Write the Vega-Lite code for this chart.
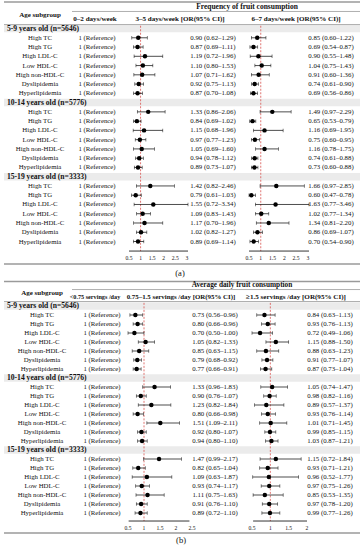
{
"$schema":"https://vega.github.io/schema/vega-lite/v6.json",
"padding":0,"spacing":2,"bounds":"flush",
"config":{"view":{"stroke":null},"font":"Liberation Serif"},
"datasets":{
"a":[
{"r":0,"kind":"g","label":"5-9 years old (n=5646)"},
{"r":1,"kind":"i","label":"High TC","or1":0.90,"lo1":0.62,"hi1":1.29,"t1":"0.90 (0.62–1.29)","or2":0.85,"lo2":0.60,"hi2":1.22,"t2":"0.85 (0.60–1.22)"},
{"r":2,"kind":"i","label":"High TG","or1":0.87,"lo1":0.69,"hi1":1.11,"t1":"0.87 (0.69–1.11)","or2":0.69,"lo2":0.54,"hi2":0.87,"t2":"0.69 (0.54–0.87)"},
{"r":3,"kind":"i","label":"High LDL-C","or1":1.19,"lo1":0.72,"hi1":1.96,"t1":"1.19 (0.72–1.96)","or2":0.90,"lo2":0.55,"hi2":1.48,"t2":"0.90 (0.55–1.48)"},
{"r":4,"kind":"i","label":"Low HDL-C","or1":1.10,"lo1":0.80,"hi1":1.53,"t1":"1.10 (0.80–1.53)","or2":1.04,"lo2":0.75,"hi2":1.43,"t2":"1.04 (0.75–1.43)"},
{"r":5,"kind":"i","label":"High non-HDL-C","or1":1.07,"lo1":0.71,"hi1":1.62,"t1":"1.07 (0.71–1.62)","or2":0.91,"lo2":0.60,"hi2":1.36,"t2":"0.91 (0.60–1.36)"},
{"r":6,"kind":"i","label":"Dyslipidemia","or1":0.92,"lo1":0.75,"hi1":1.13,"t1":"0.92 (0.75–1.13)","or2":0.74,"lo2":0.61,"hi2":0.90,"t2":"0.74 (0.61–0.90)"},
{"r":7,"kind":"i","label":"Hyperlipidemia","or1":0.87,"lo1":0.70,"hi1":1.08,"t1":"0.87 (0.70–1.08)","or2":0.69,"lo2":0.56,"hi2":0.86,"t2":"0.69 (0.56–0.86)"},
{"r":8,"kind":"g","label":"10-14 years old (n=5776)"},
{"r":9,"kind":"i","label":"High TC","or1":1.33,"lo1":0.86,"hi1":2.06,"t1":"1.33 (0.86–2.06)","or2":1.49,"lo2":0.97,"hi2":2.29,"t2":"1.49 (0.97–2.29)"},
{"r":10,"kind":"i","label":"High TG","or1":0.84,"lo1":0.69,"hi1":1.02,"t1":"0.84 (0.69–1.02)","or2":0.65,"lo2":0.53,"hi2":0.79,"t2":"0.65 (0.53–0.79)"},
{"r":11,"kind":"i","label":"High LDL-C","or1":1.15,"lo1":0.68,"hi1":1.96,"t1":"1.15 (0.68–1.96)","or2":1.16,"lo2":0.69,"hi2":1.95,"t2":"1.16 (0.69–1.95)"},
{"r":12,"kind":"i","label":"Low HDL-C","or1":0.97,"lo1":0.77,"hi1":1.23,"t1":"0.97 (0.77–1.23)","or2":0.75,"lo2":0.60,"hi2":0.95,"t2":"0.75 (0.60–0.95)"},
{"r":13,"kind":"i","label":"High non-HDL-C","or1":1.05,"lo1":0.69,"hi1":1.60,"t1":"1.05 (0.69–1.60)","or2":1.16,"lo2":0.78,"hi2":1.75,"t2":"1.16 (0.78–1.75)"},
{"r":14,"kind":"i","label":"Dyslipidemia","or1":0.94,"lo1":0.78,"hi1":1.12,"t1":"0.94 (0.78–1.12)","or2":0.74,"lo2":0.61,"hi2":0.88,"t2":"0.74 (0.61–0.88)"},
{"r":15,"kind":"i","label":"Hyperlipidemia","or1":0.89,"lo1":0.73,"hi1":1.07,"t1":"0.89 (0.73–1.07)","or2":0.73,"lo2":0.60,"hi2":0.88,"t2":"0.73 (0.60–0.88)"},
{"r":16,"kind":"g","label":"15-19 years old (n=3333)"},
{"r":17,"kind":"i","label":"High TC","or1":1.42,"lo1":0.82,"hi1":2.46,"t1":"1.42 (0.82–2.46)","or2":1.66,"lo2":0.97,"hi2":2.85,"t2":"1.66 (0.97–2.85)"},
{"r":18,"kind":"i","label":"High TG","or1":0.79,"lo1":0.61,"hi1":1.03,"t1":"0.79 (0.61–1.03)","or2":0.60,"lo2":0.47,"hi2":0.78,"t2":"0.60 (0.47–0.78)"},
{"r":19,"kind":"i","label":"High LDL-C","or1":1.55,"lo1":0.72,"hi1":3.34,"t1":"1.55 (0.72–3.34)","or2":1.63,"lo2":0.77,"hi2":3.46,"t2":"1.63 (0.77–3.46)"},
{"r":20,"kind":"i","label":"Low HDL-C","or1":1.09,"lo1":0.83,"hi1":1.43,"t1":"1.09 (0.83–1.43)","or2":1.02,"lo2":0.77,"hi2":1.34,"t2":"1.02 (0.77–1.34)"},
{"r":21,"kind":"i","label":"High non-HDL-C","or1":1.17,"lo1":0.70,"hi1":1.96,"t1":"1.17 (0.70–1.96)","or2":1.34,"lo2":0.81,"hi2":2.20,"t2":"1.34 (0.81–2.20)"},
{"r":22,"kind":"i","label":"Dyslipidemia","or1":1.02,"lo1":0.82,"hi1":1.27,"t1":"1.02 (0.82–1.27)","or2":0.86,"lo2":0.69,"hi2":1.07,"t2":"0.86 (0.69–1.07)"},
{"r":23,"kind":"i","label":"Hyperlipidemia","or1":0.89,"lo1":0.69,"hi1":1.14,"t1":"0.89 (0.69–1.14)","or2":0.70,"lo2":0.54,"hi2":0.90,"t2":"0.70 (0.54–0.90)"}
],
"b":[
{"r":0,"kind":"g","label":"5-9 years old (n=5646)"},
{"r":1,"kind":"i","label":"High TC","or1":0.73,"lo1":0.56,"hi1":0.96,"t1":"0.73 (0.56–0.96)","or2":0.84,"lo2":0.63,"hi2":1.13,"t2":"0.84 (0.63–1.13)"},
{"r":2,"kind":"i","label":"High TG","or1":0.80,"lo1":0.66,"hi1":0.96,"t1":"0.80 (0.66–0.96)","or2":0.93,"lo2":0.76,"hi2":1.13,"t2":"0.93 (0.76–1.13)"},
{"r":3,"kind":"i","label":"High LDL-C","or1":0.70,"lo1":0.50,"hi1":1.00,"t1":"0.70 (0.50–1.00)","or2":0.72,"lo2":0.49,"hi2":1.06,"t2":"0.72 (0.49–1.06)"},
{"r":4,"kind":"i","label":"Low HDL-C","or1":1.05,"lo1":0.82,"hi1":1.33,"t1":"1.05 (0.82–1.33)","or2":1.15,"lo2":0.88,"hi2":1.50,"t2":"1.15 (0.88–1.50)"},
{"r":5,"kind":"i","label":"High non-HDL-C","or1":0.85,"lo1":0.63,"hi1":1.15,"t1":"0.85 (0.63–1.15)","or2":0.88,"lo2":0.63,"hi2":1.23,"t2":"0.88 (0.63–1.23)"},
{"r":6,"kind":"i","label":"Dyslipidemia","or1":0.79,"lo1":0.68,"hi1":0.92,"t1":"0.79 (0.68–0.92)","or2":0.91,"lo2":0.77,"hi2":1.07,"t2":"0.91 (0.77–1.07)"},
{"r":7,"kind":"i","label":"Hyperlipidemia","or1":0.77,"lo1":0.66,"hi1":0.91,"t1":"0.77 (0.66–0.91)","or2":0.87,"lo2":0.73,"hi2":1.04,"t2":"0.87 (0.73–1.04)"},
{"r":8,"kind":"g","label":"10-14 years old (n=5776)"},
{"r":9,"kind":"i","label":"High TC","or1":1.33,"lo1":0.96,"hi1":1.83,"t1":"1.33 (0.96–1.83)","or2":1.05,"lo2":0.74,"hi2":1.47,"t2":"1.05 (0.74–1.47)"},
{"r":10,"kind":"i","label":"High TG","or1":0.90,"lo1":0.76,"hi1":1.07,"t1":"0.90 (0.76–1.07)","or2":0.98,"lo2":0.82,"hi2":1.16,"t2":"0.98 (0.82–1.16)"},
{"r":11,"kind":"i","label":"High LDL-C","or1":1.23,"lo1":0.82,"hi1":1.84,"t1":"1.23 (0.82–1.84)","or2":0.89,"lo2":0.57,"hi2":1.37,"t2":"0.89 (0.57–1.37)"},
{"r":12,"kind":"i","label":"Low HDL-C","or1":0.80,"lo1":0.66,"hi1":0.98,"t1":"0.80 (0.66–0.98)","or2":0.93,"lo2":0.76,"hi2":1.14,"t2":"0.93 (0.76–1.14)"},
{"r":13,"kind":"i","label":"High non-HDL-C","or1":1.51,"lo1":1.09,"hi1":2.11,"t1":"1.51 (1.09–2.11)","or2":1.01,"lo2":0.71,"hi2":1.45,"t2":"1.01 (0.71–1.45)"},
{"r":14,"kind":"i","label":"Dyslipidemia","or1":0.92,"lo1":0.80,"hi1":1.07,"t1":"0.92 (0.80–1.07)","or2":0.99,"lo2":0.85,"hi2":1.15,"t2":"0.99 (0.85–1.15)"},
{"r":15,"kind":"i","label":"Hyperlipidemia","or1":0.94,"lo1":0.80,"hi1":1.10,"t1":"0.94 (0.80–1.10)","or2":1.03,"lo2":0.87,"hi2":1.21,"t2":"1.03 (0.87–1.21)"},
{"r":16,"kind":"g","label":"15-19 years old (n=3333)"},
{"r":17,"kind":"i","label":"High TC","or1":1.47,"lo1":0.99,"hi1":2.17,"t1":"1.47 (0.99–2.17)","or2":1.15,"lo2":0.72,"hi2":1.84,"t2":"1.15 (0.72–1.84)"},
{"r":18,"kind":"i","label":"High TG","or1":0.82,"lo1":0.65,"hi1":1.04,"t1":"0.82 (0.65–1.04)","or2":0.93,"lo2":0.71,"hi2":1.21,"t2":"0.93 (0.71–1.21)"},
{"r":19,"kind":"i","label":"High LDL-C","or1":1.09,"lo1":0.63,"hi1":1.87,"t1":"1.09 (0.63–1.87)","or2":0.96,"lo2":0.52,"hi2":1.77,"t2":"0.96 (0.52–1.77)"},
{"r":20,"kind":"i","label":"Low HDL-C","or1":0.93,"lo1":0.74,"hi1":1.17,"t1":"0.93 (0.74–1.17)","or2":0.97,"lo2":0.75,"hi2":1.26,"t2":"0.97 (0.75–1.26)"},
{"r":21,"kind":"i","label":"High non-HDL-C","or1":1.11,"lo1":0.75,"hi1":1.63,"t1":"1.11 (0.75–1.63)","or2":0.85,"lo2":0.53,"hi2":1.35,"t2":"0.85 (0.53–1.35)"},
{"r":22,"kind":"i","label":"Dyslipidemia","or1":0.91,"lo1":0.76,"hi1":1.10,"t1":"0.91 (0.76–1.10)","or2":0.97,"lo2":0.78,"hi2":1.20,"t2":"0.97 (0.78–1.20)"},
{"r":23,"kind":"i","label":"Hyperlipidemia","or1":0.89,"lo1":0.72,"hi1":1.10,"t1":"0.89 (0.72–1.10)","or2":0.99,"lo2":0.77,"hi2":1.26,"t2":"0.99 (0.77–1.26)"}
]
},
"vconcat":[
{
"width":360,"height":278,
"resolve":{"scale":{"x":"independent"}},
"layer":[
{"data":{"name":"a"},"transform":[{"filter":"datum.kind=='g'"}],"mark":{"type":"rule","color":"#ebebeb","strokeWidth":7.5},"encoding":{"y":{"field":"r","type":"quantitative","scale":{"domain":[-3.08,26.94],"reverse":true,"nice":false,"zero":false},"axis":null}}},
{"data":{"values":[{}]},"mark":{"type":"rule","color":"#9a9a9a","strokeWidth":1.5},"encoding":{"y":{"datum":-2.86,"type":"quantitative","scale":{"domain":[-3.08,26.94],"reverse":true,"nice":false,"zero":false},"axis":null}}},
{"data":{"values":[{}]},"mark":{"type":"rule","color":"#9a9a9a","strokeWidth":0.8},"encoding":{"y":{"datum":-0.43,"type":"quantitative","scale":{"domain":[-3.08,26.94],"reverse":true,"nice":false,"zero":false},"axis":null}}},
{"data":{"values":[{}]},"mark":{"type":"rule","color":"#9a9a9a","strokeWidth":1.5},"encoding":{"y":{"datum":25.43,"type":"quantitative","scale":{"domain":[-3.08,26.94],"reverse":true,"nice":false,"zero":false},"axis":null}}},
{"layer":[
{"data":{"values":[{}]},"mark":{"type":"rule","color":"#9a9a9a","strokeWidth":0.8},"encoding":{"x":{"datum":2,"type":"quantitative","scale":{"domain":[0,1,2,3,4,5,6,7,8,9,10],"range":[3,36,68,91,93,176,209,243,292,327,357],"nice":false,"zero":false},"axis":null},"x2":{"datum":10},"y":{"datum":-1.84,"type":"quantitative","scale":{"domain":[-3.08,26.94],"reverse":true,"nice":false,"zero":false},"axis":null}}},
{"data":{"name":"a"},"transform":[{"filter":"datum.kind=='g'"}],"mark":{"type":"text","align":"left","baseline":"middle","fontSize":7.6,"fontWeight":"bold","color":"#111"},"encoding":{"x":{"datum":0,"type":"quantitative","scale":{"domain":[0,1,2,3,4,5,6,7,8,9,10],"range":[3,36,68,91,93,176,209,243,292,327,357],"nice":false,"zero":false},"axis":null},"y":{"field":"r","type":"quantitative","scale":{"domain":[-3.08,26.94],"reverse":true,"nice":false,"zero":false},"axis":null},"text":{"field":"label"}}},
{"data":{"name":"a"},"transform":[{"filter":"datum.kind=='i'"}],"mark":{"type":"text","align":"center","baseline":"middle","fontSize":6.8,"color":"#111"},"encoding":{"x":{"datum":1,"type":"quantitative","scale":{"domain":[0,1,2,3,4,5,6,7,8,9,10],"range":[3,36,68,91,93,176,209,243,292,327,357],"nice":false,"zero":false},"axis":null},"y":{"field":"r","type":"quantitative","scale":{"domain":[-3.08,26.94],"reverse":true,"nice":false,"zero":false},"axis":null},"text":{"field":"label"}}},
{"data":{"name":"a"},"transform":[{"filter":"datum.kind=='i'"}],"mark":{"type":"text","align":"center","baseline":"middle","fontSize":6.8,"color":"#111"},"encoding":{"x":{"datum":4,"type":"quantitative","scale":{"domain":[0,1,2,3,4,5,6,7,8,9,10],"range":[3,36,68,91,93,176,209,243,292,327,357],"nice":false,"zero":false},"axis":null},"y":{"field":"r","type":"quantitative","scale":{"domain":[-3.08,26.94],"reverse":true,"nice":false,"zero":false},"axis":null},"text":{"value":"1 (Reference)"}}},
{"data":{"name":"a"},"transform":[{"filter":"datum.kind=='i'"}],"mark":{"type":"text","align":"center","baseline":"middle","fontSize":6.8,"color":"#111"},"encoding":{"x":{"datum":6,"type":"quantitative","scale":{"domain":[0,1,2,3,4,5,6,7,8,9,10],"range":[3,36,68,91,93,176,209,243,292,327,357],"nice":false,"zero":false},"axis":null},"y":{"field":"r","type":"quantitative","scale":{"domain":[-3.08,26.94],"reverse":true,"nice":false,"zero":false},"axis":null},"text":{"field":"t1"}}},
{"data":{"name":"a"},"transform":[{"filter":"datum.kind=='i'"}],"mark":{"type":"text","align":"center","baseline":"middle","fontSize":6.8,"color":"#111"},"encoding":{"x":{"datum":9,"type":"quantitative","scale":{"domain":[0,1,2,3,4,5,6,7,8,9,10],"range":[3,36,68,91,93,176,209,243,292,327,357],"nice":false,"zero":false},"axis":null},"y":{"field":"r","type":"quantitative","scale":{"domain":[-3.08,26.94],"reverse":true,"nice":false,"zero":false},"axis":null},"text":{"field":"t2"}}},
{"data":{"values":[{}]},"mark":{"type":"text","align":"center","baseline":"middle","fontSize":7.0,"fontWeight":"bold","color":"#111"},"encoding":{"x":{"datum":1,"type":"quantitative","scale":{"domain":[0,1,2,3,4,5,6,7,8,9,10],"range":[3,36,68,91,93,176,209,243,292,327,357],"nice":false,"zero":false},"axis":null},"y":{"datum":-1.51,"type":"quantitative","scale":{"domain":[-3.08,26.94],"reverse":true,"nice":false,"zero":false},"axis":null},"text":{"value":"Age subgroup"}}},
{"data":{"values":[{}]},"mark":{"type":"text","align":"center","baseline":"middle","fontSize":7.5,"fontWeight":"bold","color":"#111"},"encoding":{"x":{"datum":7,"type":"quantitative","scale":{"domain":[0,1,2,3,4,5,6,7,8,9,10],"range":[3,36,68,91,93,176,209,243,292,327,357],"nice":false,"zero":false},"axis":null},"y":{"datum":-2.32,"type":"quantitative","scale":{"domain":[-3.08,26.94],"reverse":true,"nice":false,"zero":false},"axis":null},"text":{"value":"Frequency of fruit consumption"}}},
{"data":{"values":[{}]},"mark":{"type":"text","align":"center","baseline":"middle","fontSize":7.1,"fontWeight":"bold","color":"#111"},"encoding":{"x":{"datum":3,"type":"quantitative","scale":{"domain":[0,1,2,3,4,5,6,7,8,9,10],"range":[3,36,68,91,93,176,209,243,292,327,357],"nice":false,"zero":false},"axis":null},"y":{"datum":-1.03,"type":"quantitative","scale":{"domain":[-3.08,26.94],"reverse":true,"nice":false,"zero":false},"axis":null},"text":{"value":"0–2 days/week"}}},
{"data":{"values":[{}]},"mark":{"type":"text","align":"center","baseline":"middle","fontSize":7.1,"fontWeight":"bold","color":"#111"},"encoding":{"x":{"datum":5,"type":"quantitative","scale":{"domain":[0,1,2,3,4,5,6,7,8,9,10],"range":[3,36,68,91,93,176,209,243,292,327,357],"nice":false,"zero":false},"axis":null},"y":{"datum":-1.03,"type":"quantitative","scale":{"domain":[-3.08,26.94],"reverse":true,"nice":false,"zero":false},"axis":null},"text":{"value":"3–5 days/week [OR(95% CI)]"}}},
{"data":{"values":[{}]},"mark":{"type":"text","align":"center","baseline":"middle","fontSize":7.1,"fontWeight":"bold","color":"#111"},"encoding":{"x":{"datum":8,"type":"quantitative","scale":{"domain":[0,1,2,3,4,5,6,7,8,9,10],"range":[3,36,68,91,93,176,209,243,292,327,357],"nice":false,"zero":false},"axis":null},"y":{"datum":-1.03,"type":"quantitative","scale":{"domain":[-3.08,26.94],"reverse":true,"nice":false,"zero":false},"axis":null},"text":{"value":"6–7 days/week [OR(95% CI)]"}}},
{"data":{"values":[{}]},"mark":{"type":"text","align":"center","baseline":"middle","fontSize":8.5,"color":"#111"},"encoding":{"x":{"datum":5,"type":"quantitative","scale":{"domain":[0,1,2,3,4,5,6,7,8,9,10],"range":[3,36,68,91,93,176,209,243,292,327,357],"nice":false,"zero":false},"axis":null},"y":{"datum":26.4,"type":"quantitative","scale":{"domain":[-3.08,26.94],"reverse":true,"nice":false,"zero":false},"axis":null},"text":{"value":"(a)"}}}
]},
{"layer":[
{"data":{"values":[{}]},"mark":{"type":"rule","color":"#d9534f","strokeWidth":0.8,"strokeDash":[2,1.5]},"encoding":{"x":{"datum":1,"type":"quantitative","scale":{"domain":[0.5,3.05],"range":[125,184],"nice":false,"zero":false,"clamp":true},"axis":null},"y":{"datum":-0.3,"type":"quantitative","scale":{"domain":[-3.08,26.94],"reverse":true,"nice":false,"zero":false},"axis":null},"y2":{"datum":24.03}}},
{"data":{"name":"a"},"transform":[{"filter":"datum.kind=='i'"}],"mark":{"type":"rule","color":"#000","strokeWidth":0.7},"encoding":{"x":{"field":"lo1","type":"quantitative","scale":{"domain":[0.5,3.05],"range":[125,184],"nice":false,"zero":false,"clamp":true},"axis":null},"x2":{"field":"hi1"},"y":{"field":"r","type":"quantitative","scale":{"domain":[-3.08,26.94],"reverse":true,"nice":false,"zero":false},"axis":null}}},
{"data":{"name":"a"},"transform":[{"filter":"datum.kind=='i'"}],"mark":{"type":"tick","orient":"vertical","color":"#000","size":3.5,"thickness":0.7},"encoding":{"x":{"field":"lo1","type":"quantitative","scale":{"domain":[0.5,3.05],"range":[125,184],"nice":false,"zero":false,"clamp":true},"axis":null},"y":{"field":"r","type":"quantitative","scale":{"domain":[-3.08,26.94],"reverse":true,"nice":false,"zero":false},"axis":null}}},
{"data":{"name":"a"},"transform":[{"filter":"datum.kind=='i'"}],"mark":{"type":"tick","orient":"vertical","color":"#000","size":3.5,"thickness":0.7},"encoding":{"x":{"field":"hi1","type":"quantitative","scale":{"domain":[0.5,3.05],"range":[125,184],"nice":false,"zero":false,"clamp":true},"axis":null},"y":{"field":"r","type":"quantitative","scale":{"domain":[-3.08,26.94],"reverse":true,"nice":false,"zero":false},"axis":null}}},
{"data":{"name":"a"},"transform":[{"filter":"datum.kind=='i'"}],"mark":{"type":"circle","color":"#000","size":20,"opacity":1},"encoding":{"x":{"field":"or1","type":"quantitative","scale":{"domain":[0.5,3.05],"range":[125,184],"nice":false,"zero":false,"clamp":true},"axis":null},"y":{"field":"r","type":"quantitative","scale":{"domain":[-3.08,26.94],"reverse":true,"nice":false,"zero":false},"axis":null}}},
{"data":{"values":[{}]},"mark":{"type":"rule","color":"#000","strokeWidth":0.8},"encoding":{"x":{"datum":0.5,"type":"quantitative","scale":{"domain":[0.5,3.05],"range":[125,184],"nice":false,"zero":false,"clamp":true},"axis":null},"x2":{"datum":3.05},"y":{"datum":24.03,"type":"quantitative","scale":{"domain":[-3.08,26.94],"reverse":true,"nice":false,"zero":false},"axis":null}}},
{"data":{"values":[{"t":0.5},{"t":1},{"t":1.5},{"t":2},{"t":2.5},{"t":3}]},"mark":{"type":"text","align":"center","baseline":"middle","fontSize":5.6,"color":"#111"},"encoding":{"x":{"field":"t","type":"quantitative","scale":{"domain":[0.5,3.05],"range":[125,184],"nice":false,"zero":false,"clamp":true},"axis":null},"y":{"datum":24.73,"type":"quantitative","scale":{"domain":[-3.08,26.94],"reverse":true,"nice":false,"zero":false},"axis":null},"text":{"field":"t","type":"nominal"}}}
]},
{"layer":[
{"data":{"values":[{}]},"mark":{"type":"rule","color":"#d9534f","strokeWidth":0.8,"strokeDash":[2,1.5]},"encoding":{"x":{"datum":1,"type":"quantitative","scale":{"domain":[0.5,3.05],"range":[245,305],"nice":false,"zero":false,"clamp":true},"axis":null},"y":{"datum":-0.3,"type":"quantitative","scale":{"domain":[-3.08,26.94],"reverse":true,"nice":false,"zero":false},"axis":null},"y2":{"datum":24.03}}},
{"data":{"name":"a"},"transform":[{"filter":"datum.kind=='i'"}],"mark":{"type":"rule","color":"#000","strokeWidth":0.7},"encoding":{"x":{"field":"lo2","type":"quantitative","scale":{"domain":[0.5,3.05],"range":[245,305],"nice":false,"zero":false,"clamp":true},"axis":null},"x2":{"field":"hi2"},"y":{"field":"r","type":"quantitative","scale":{"domain":[-3.08,26.94],"reverse":true,"nice":false,"zero":false},"axis":null}}},
{"data":{"name":"a"},"transform":[{"filter":"datum.kind=='i'"}],"mark":{"type":"tick","orient":"vertical","color":"#000","size":3.5,"thickness":0.7},"encoding":{"x":{"field":"lo2","type":"quantitative","scale":{"domain":[0.5,3.05],"range":[245,305],"nice":false,"zero":false,"clamp":true},"axis":null},"y":{"field":"r","type":"quantitative","scale":{"domain":[-3.08,26.94],"reverse":true,"nice":false,"zero":false},"axis":null}}},
{"data":{"name":"a"},"transform":[{"filter":"datum.kind=='i'"}],"mark":{"type":"tick","orient":"vertical","color":"#000","size":3.5,"thickness":0.7},"encoding":{"x":{"field":"hi2","type":"quantitative","scale":{"domain":[0.5,3.05],"range":[245,305],"nice":false,"zero":false,"clamp":true},"axis":null},"y":{"field":"r","type":"quantitative","scale":{"domain":[-3.08,26.94],"reverse":true,"nice":false,"zero":false},"axis":null}}},
{"data":{"name":"a"},"transform":[{"filter":"datum.kind=='i'"}],"mark":{"type":"circle","color":"#000","size":20,"opacity":1},"encoding":{"x":{"field":"or2","type":"quantitative","scale":{"domain":[0.5,3.05],"range":[245,305],"nice":false,"zero":false,"clamp":true},"axis":null},"y":{"field":"r","type":"quantitative","scale":{"domain":[-3.08,26.94],"reverse":true,"nice":false,"zero":false},"axis":null}}},
{"data":{"values":[{}]},"mark":{"type":"rule","color":"#000","strokeWidth":0.8},"encoding":{"x":{"datum":0.42,"type":"quantitative","scale":{"domain":[0.5,3.05],"range":[245,305],"nice":false,"zero":false,"clamp":false},"axis":null},"x2":{"datum":3.05},"y":{"datum":24.03,"type":"quantitative","scale":{"domain":[-3.08,26.94],"reverse":true,"nice":false,"zero":false},"axis":null}}},
{"data":{"values":[{"t":0.5},{"t":1},{"t":1.5},{"t":2},{"t":2.5},{"t":3}]},"mark":{"type":"text","align":"center","baseline":"middle","fontSize":5.6,"color":"#111"},"encoding":{"x":{"field":"t","type":"quantitative","scale":{"domain":[0.5,3.05],"range":[245,305],"nice":false,"zero":false,"clamp":true},"axis":null},"y":{"datum":24.73,"type":"quantitative","scale":{"domain":[-3.08,26.94],"reverse":true,"nice":false,"zero":false},"axis":null},"text":{"field":"t","type":"nominal"}}}
]}
]
},
{
"width":360,"height":270,
"resolve":{"scale":{"x":"independent"}},
"layer":[
{"data":{"name":"b"},"transform":[{"filter":"datum.kind=='g'"}],"mark":{"type":"rule","color":"#ebebeb","strokeWidth":7.5},"encoding":{"y":{"field":"r","type":"quantitative","scale":{"domain":[-2.89,27.11],"reverse":true,"nice":false,"zero":false},"axis":null}}},
{"data":{"values":[{}]},"mark":{"type":"rule","color":"#9a9a9a","strokeWidth":1.5},"encoding":{"y":{"datum":-2.72,"type":"quantitative","scale":{"domain":[-2.89,27.11],"reverse":true,"nice":false,"zero":false},"axis":null}}},
{"data":{"values":[{}]},"mark":{"type":"rule","color":"#9a9a9a","strokeWidth":0.8},"encoding":{"y":{"datum":-0.5,"type":"quantitative","scale":{"domain":[-2.89,27.11],"reverse":true,"nice":false,"zero":false},"axis":null}}},
{"data":{"values":[{}]},"mark":{"type":"rule","color":"#9a9a9a","strokeWidth":1.5},"encoding":{"y":{"datum":25.22,"type":"quantitative","scale":{"domain":[-2.89,27.11],"reverse":true,"nice":false,"zero":false},"axis":null}}},
{"layer":[
{"data":{"values":[{}]},"mark":{"type":"rule","color":"#9a9a9a","strokeWidth":0.8},"encoding":{"x":{"datum":2,"type":"quantitative","scale":{"domain":[0,1,2,3,4,5,6,7,8,9,10],"range":[3,38,68,91,98,177,211,238,292,326,357],"nice":false,"zero":false},"axis":null},"x2":{"datum":10},"y":{"datum":-1.83,"type":"quantitative","scale":{"domain":[-2.89,27.11],"reverse":true,"nice":false,"zero":false},"axis":null}}},
{"data":{"name":"b"},"transform":[{"filter":"datum.kind=='g'"}],"mark":{"type":"text","align":"left","baseline":"middle","fontSize":7.6,"fontWeight":"bold","color":"#111"},"encoding":{"x":{"datum":0,"type":"quantitative","scale":{"domain":[0,1,2,3,4,5,6,7,8,9,10],"range":[3,38,68,91,98,177,211,238,292,326,357],"nice":false,"zero":false},"axis":null},"y":{"field":"r","type":"quantitative","scale":{"domain":[-2.89,27.11],"reverse":true,"nice":false,"zero":false},"axis":null},"text":{"field":"label"}}},
{"data":{"name":"b"},"transform":[{"filter":"datum.kind=='i'"}],"mark":{"type":"text","align":"center","baseline":"middle","fontSize":6.8,"color":"#111"},"encoding":{"x":{"datum":1,"type":"quantitative","scale":{"domain":[0,1,2,3,4,5,6,7,8,9,10],"range":[3,38,68,91,98,177,211,238,292,326,357],"nice":false,"zero":false},"axis":null},"y":{"field":"r","type":"quantitative","scale":{"domain":[-2.89,27.11],"reverse":true,"nice":false,"zero":false},"axis":null},"text":{"field":"label"}}},
{"data":{"name":"b"},"transform":[{"filter":"datum.kind=='i'"}],"mark":{"type":"text","align":"center","baseline":"middle","fontSize":6.8,"color":"#111"},"encoding":{"x":{"datum":4,"type":"quantitative","scale":{"domain":[0,1,2,3,4,5,6,7,8,9,10],"range":[3,38,68,91,98,177,211,238,292,326,357],"nice":false,"zero":false},"axis":null},"y":{"field":"r","type":"quantitative","scale":{"domain":[-2.89,27.11],"reverse":true,"nice":false,"zero":false},"axis":null},"text":{"value":"1 (Reference)"}}},
{"data":{"name":"b"},"transform":[{"filter":"datum.kind=='i'"}],"mark":{"type":"text","align":"center","baseline":"middle","fontSize":6.8,"color":"#111"},"encoding":{"x":{"datum":6,"type":"quantitative","scale":{"domain":[0,1,2,3,4,5,6,7,8,9,10],"range":[3,38,68,91,98,177,211,238,292,326,357],"nice":false,"zero":false},"axis":null},"y":{"field":"r","type":"quantitative","scale":{"domain":[-2.89,27.11],"reverse":true,"nice":false,"zero":false},"axis":null},"text":{"field":"t1"}}},
{"data":{"name":"b"},"transform":[{"filter":"datum.kind=='i'"}],"mark":{"type":"text","align":"center","baseline":"middle","fontSize":6.8,"color":"#111"},"encoding":{"x":{"datum":9,"type":"quantitative","scale":{"domain":[0,1,2,3,4,5,6,7,8,9,10],"range":[3,38,68,91,98,177,211,238,292,326,357],"nice":false,"zero":false},"axis":null},"y":{"field":"r","type":"quantitative","scale":{"domain":[-2.89,27.11],"reverse":true,"nice":false,"zero":false},"axis":null},"text":{"field":"t2"}}},
{"data":{"values":[{}]},"mark":{"type":"text","align":"center","baseline":"middle","fontSize":7.0,"fontWeight":"bold","color":"#111"},"encoding":{"x":{"datum":1,"type":"quantitative","scale":{"domain":[0,1,2,3,4,5,6,7,8,9,10],"range":[3,35,68,91,98,177,211,238,292,326,357],"nice":false,"zero":false},"axis":null},"y":{"datum":-1.44,"type":"quantitative","scale":{"domain":[-2.89,27.11],"reverse":true,"nice":false,"zero":false},"axis":null},"text":{"value":"Age subgroup"}}},
{"data":{"values":[{}]},"mark":{"type":"text","align":"center","baseline":"middle","fontSize":7.3,"fontWeight":"bold","color":"#111"},"encoding":{"x":{"datum":7,"type":"quantitative","scale":{"domain":[0,1,2,3,4,5,6,7,8,9,10],"range":[3,38,68,91,98,177,211,238,292,326,357],"nice":false,"zero":false},"axis":null},"y":{"datum":-2.33,"type":"quantitative","scale":{"domain":[-2.89,27.11],"reverse":true,"nice":false,"zero":false},"axis":null},"text":{"value":"Average daily fruit consumption"}}},
{"data":{"values":[{}]},"mark":{"type":"text","align":"center","baseline":"middle","fontSize":6.2,"fontWeight":"bold","color":"#111"},"encoding":{"x":{"datum":3,"type":"quantitative","scale":{"domain":[0,1,2,3,4,5,6,7,8,9,10],"range":[3,38,68,91,98,177,211,238,292,326,357],"nice":false,"zero":false},"axis":null},"y":{"datum":-1.0,"type":"quantitative","scale":{"domain":[-2.89,27.11],"reverse":true,"nice":false,"zero":false},"axis":null},"text":{"value":"<0.75 servings /day"}}},
{"data":{"values":[{}]},"mark":{"type":"text","align":"center","baseline":"middle","fontSize":6.9,"fontWeight":"bold","color":"#111"},"encoding":{"x":{"datum":5,"type":"quantitative","scale":{"domain":[0,1,2,3,4,5,6,7,8,9,10],"range":[3,38,68,91,98,177,211,238,292,326,357],"nice":false,"zero":false},"axis":null},"y":{"datum":-1.0,"type":"quantitative","scale":{"domain":[-2.89,27.11],"reverse":true,"nice":false,"zero":false},"axis":null},"text":{"value":"0.75–1.5 servings /day [OR(95% CI)]"}}},
{"data":{"values":[{}]},"mark":{"type":"text","align":"center","baseline":"middle","fontSize":7.1,"fontWeight":"bold","color":"#111"},"encoding":{"x":{"datum":8,"type":"quantitative","scale":{"domain":[0,1,2,3,4,5,6,7,8,9,10],"range":[3,38,68,91,98,177,211,238,292,326,357],"nice":false,"zero":false},"axis":null},"y":{"datum":-1.0,"type":"quantitative","scale":{"domain":[-2.89,27.11],"reverse":true,"nice":false,"zero":false},"axis":null},"text":{"value":"≥1.5 servings /day [OR(95% CI)]"}}},
{"data":{"values":[{}]},"mark":{"type":"text","align":"center","baseline":"middle","fontSize":8.5,"color":"#111"},"encoding":{"x":{"datum":5,"type":"quantitative","scale":{"domain":[0,1,2,3,4,5,6,7,8,9,10],"range":[3,38,68,91,98,177,211,238,292,326,357],"nice":false,"zero":false},"axis":null},"y":{"datum":26.0,"type":"quantitative","scale":{"domain":[-2.89,27.11],"reverse":true,"nice":false,"zero":false},"axis":null},"text":{"value":"(b)"}}}
]},
{"layer":[
{"data":{"values":[{}]},"mark":{"type":"rule","color":"#d9534f","strokeWidth":0.8,"strokeDash":[2,1.5]},"encoding":{"x":{"datum":1,"type":"quantitative","scale":{"domain":[0.5,2.5],"range":[124,188],"nice":false,"zero":false,"clamp":true},"axis":null},"y":{"datum":-0.35,"type":"quantitative","scale":{"domain":[-2.89,27.11],"reverse":true,"nice":false,"zero":false},"axis":null},"y2":{"datum":23.89}}},
{"data":{"name":"b"},"transform":[{"filter":"datum.kind=='i'"}],"mark":{"type":"rule","color":"#000","strokeWidth":0.7},"encoding":{"x":{"field":"lo1","type":"quantitative","scale":{"domain":[0.5,2.5],"range":[124,188],"nice":false,"zero":false,"clamp":true},"axis":null},"x2":{"field":"hi1"},"y":{"field":"r","type":"quantitative","scale":{"domain":[-2.89,27.11],"reverse":true,"nice":false,"zero":false},"axis":null}}},
{"data":{"name":"b"},"transform":[{"filter":"datum.kind=='i'"}],"mark":{"type":"tick","orient":"vertical","color":"#000","size":3.5,"thickness":0.7},"encoding":{"x":{"field":"lo1","type":"quantitative","scale":{"domain":[0.5,2.5],"range":[124,188],"nice":false,"zero":false,"clamp":true},"axis":null},"y":{"field":"r","type":"quantitative","scale":{"domain":[-2.89,27.11],"reverse":true,"nice":false,"zero":false},"axis":null}}},
{"data":{"name":"b"},"transform":[{"filter":"datum.kind=='i'"}],"mark":{"type":"tick","orient":"vertical","color":"#000","size":3.5,"thickness":0.7},"encoding":{"x":{"field":"hi1","type":"quantitative","scale":{"domain":[0.5,2.5],"range":[124,188],"nice":false,"zero":false,"clamp":true},"axis":null},"y":{"field":"r","type":"quantitative","scale":{"domain":[-2.89,27.11],"reverse":true,"nice":false,"zero":false},"axis":null}}},
{"data":{"name":"b"},"transform":[{"filter":"datum.kind=='i'"}],"mark":{"type":"circle","color":"#000","size":20,"opacity":1},"encoding":{"x":{"field":"or1","type":"quantitative","scale":{"domain":[0.5,2.5],"range":[124,188],"nice":false,"zero":false,"clamp":true},"axis":null},"y":{"field":"r","type":"quantitative","scale":{"domain":[-2.89,27.11],"reverse":true,"nice":false,"zero":false},"axis":null}}},
{"data":{"values":[{}]},"mark":{"type":"rule","color":"#000","strokeWidth":0.8},"encoding":{"x":{"datum":0.52,"type":"quantitative","scale":{"domain":[0.5,2.5],"range":[124,188],"nice":false,"zero":false,"clamp":true},"axis":null},"x2":{"datum":2.42},"y":{"datum":23.89,"type":"quantitative","scale":{"domain":[-2.89,27.11],"reverse":true,"nice":false,"zero":false},"axis":null}}},
{"data":{"values":[{"t":0.5},{"t":1},{"t":1.5},{"t":2},{"t":2.5}]},"mark":{"type":"text","align":"center","baseline":"middle","fontSize":5.6,"color":"#111"},"encoding":{"x":{"field":"t","type":"quantitative","scale":{"domain":[0.5,2.5],"range":[124,188],"nice":false,"zero":false,"clamp":true},"axis":null},"y":{"datum":24.61,"type":"quantitative","scale":{"domain":[-2.89,27.11],"reverse":true,"nice":false,"zero":false},"axis":null},"text":{"field":"t","type":"nominal"}}}
]},
{"layer":[
{"data":{"values":[{}]},"mark":{"type":"rule","color":"#d9534f","strokeWidth":0.8,"strokeDash":[2,1.5]},"encoding":{"x":{"datum":1,"type":"quantitative","scale":{"domain":[0.5,2.0],"range":[248,303],"nice":false,"zero":false,"clamp":true},"axis":null},"y":{"datum":-0.35,"type":"quantitative","scale":{"domain":[-2.89,27.11],"reverse":true,"nice":false,"zero":false},"axis":null},"y2":{"datum":23.89}}},
{"data":{"name":"b"},"transform":[{"filter":"datum.kind=='i'"}],"mark":{"type":"rule","color":"#000","strokeWidth":0.7},"encoding":{"x":{"field":"lo2","type":"quantitative","scale":{"domain":[0.5,2.0],"range":[248,303],"nice":false,"zero":false,"clamp":true},"axis":null},"x2":{"field":"hi2"},"y":{"field":"r","type":"quantitative","scale":{"domain":[-2.89,27.11],"reverse":true,"nice":false,"zero":false},"axis":null}}},
{"data":{"name":"b"},"transform":[{"filter":"datum.kind=='i'"}],"mark":{"type":"tick","orient":"vertical","color":"#000","size":3.5,"thickness":0.7},"encoding":{"x":{"field":"lo2","type":"quantitative","scale":{"domain":[0.5,2.0],"range":[248,303],"nice":false,"zero":false,"clamp":true},"axis":null},"y":{"field":"r","type":"quantitative","scale":{"domain":[-2.89,27.11],"reverse":true,"nice":false,"zero":false},"axis":null}}},
{"data":{"name":"b"},"transform":[{"filter":"datum.kind=='i'"}],"mark":{"type":"tick","orient":"vertical","color":"#000","size":3.5,"thickness":0.7},"encoding":{"x":{"field":"hi2","type":"quantitative","scale":{"domain":[0.5,2.0],"range":[248,303],"nice":false,"zero":false,"clamp":true},"axis":null},"y":{"field":"r","type":"quantitative","scale":{"domain":[-2.89,27.11],"reverse":true,"nice":false,"zero":false},"axis":null}}},
{"data":{"name":"b"},"transform":[{"filter":"datum.kind=='i'"}],"mark":{"type":"circle","color":"#000","size":20,"opacity":1},"encoding":{"x":{"field":"or2","type":"quantitative","scale":{"domain":[0.5,2.0],"range":[248,303],"nice":false,"zero":false,"clamp":true},"axis":null},"y":{"field":"r","type":"quantitative","scale":{"domain":[-2.89,27.11],"reverse":true,"nice":false,"zero":false},"axis":null}}},
{"data":{"values":[{}]},"mark":{"type":"rule","color":"#000","strokeWidth":0.8},"encoding":{"x":{"datum":0.53,"type":"quantitative","scale":{"domain":[0.5,2.0],"range":[248,303],"nice":false,"zero":false,"clamp":true},"axis":null},"x2":{"datum":2.05},"y":{"datum":23.89,"type":"quantitative","scale":{"domain":[-2.89,27.11],"reverse":true,"nice":false,"zero":false},"axis":null}}},
{"data":{"values":[{"t":0.5},{"t":1},{"t":1.5},{"t":2}]},"mark":{"type":"text","align":"center","baseline":"middle","fontSize":5.6,"color":"#111"},"encoding":{"x":{"field":"t","type":"quantitative","scale":{"domain":[0.5,2.0],"range":[248,303],"nice":false,"zero":false,"clamp":true},"axis":null},"y":{"datum":24.61,"type":"quantitative","scale":{"domain":[-2.89,27.11],"reverse":true,"nice":false,"zero":false},"axis":null},"text":{"field":"t","type":"nominal"}}}
]}
]
}
]
}
